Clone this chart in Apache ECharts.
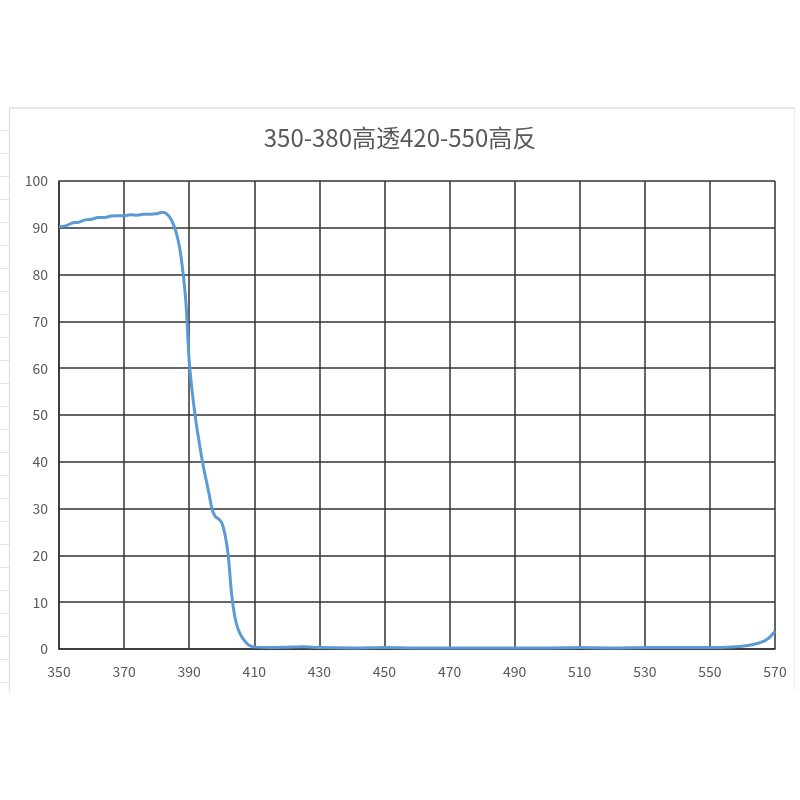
<!DOCTYPE html>
<html>
<head>
<meta charset="utf-8">
<script src="https://cdn.jsdelivr.net/npm/echarts@6/dist/echarts.min.js"></script>
<style>
  html, body { margin: 0; padding: 0; background: #fff; }
  #strip { position: absolute; left: 0; top: 108px; width: 9px; height: 582px;
           background: repeating-linear-gradient(to bottom, transparent 0, transparent 22px, #e3e3e3 22px, #e3e3e3 23px); }
  #frame { position: absolute; left: 9px; top: 107px; width: 784px; height: 582px;
           border-left: 1px solid #d9d9d9; border-top: 2px solid #e6e6e6; border-right: 1px solid #ececec; }
  #main { position: absolute; left: 0; top: 0; width: 800px; height: 800px; }
</style>
</head>
<body>
<div id="strip"></div>
<div id="frame"></div>
<div id="main"></div>
<script>
// 波长 (nm)
const wavelength = [350, 352, 354, 356, 358, 360, 362, 364, 366, 368, 370, 372, 374, 376, 378, 380,
  381, 382, 383, 384, 385, 386, 387, 388, 389, 390, 391, 392, 393, 394, 395, 396, 397, 398, 399,
  400, 401, 402, 403, 404, 405, 406, 407, 408, 409, 410, 415, 420, 425, 430, 440, 450, 460, 470,
  480, 490, 500, 510, 520, 530, 540, 550, 555, 560, 563, 566, 568, 570];
// 透过率 (%)
const transmittance = [90.2, 90.4, 91.0, 91.2, 91.7, 91.8, 92.2, 92.2, 92.5, 92.6, 92.6, 92.8, 92.7, 92.9, 92.9, 93.0,
  93.2, 93.3, 93.0, 92.3, 91.0, 89.0, 86.0, 81.0, 74.0, 61.5, 54.5, 49.0, 44.5, 40.3, 36.8, 33.5, 30.0, 28.3, 27.8,
  27.0, 24.5, 20.0, 12.0, 7.0, 4.3, 2.8, 1.8, 1.0, 0.6, 0.4, 0.3, 0.4, 0.5, 0.3, 0.2, 0.3, 0.2, 0.2,
  0.2, 0.2, 0.2, 0.3, 0.2, 0.3, 0.3, 0.3, 0.4, 0.6, 0.9, 1.5, 2.3, 3.8];

const xTicks = { min: 350, max: 570, step: 20 };
const yTicks = { min: 0, max: 100, step: 10 };

const labelFont = "'Liberation Sans Narrow', 'Noto Sans CJK SC', sans-serif";

const chart = echarts.init(document.getElementById('main'));

const option = {
  animation: false,
  title: {
    text: '350-380高透420-550高反',
    left: 'center',
    top: 121,
    textStyle: {
      fontFamily: 'Noto Sans CJK SC',
      fontSize: 24,
      fontWeight: 'normal',
      color: '#595959'
    }
  },
  grid: {
    left: 59,
    right: 25,
    top: 181,
    bottom: 151,
    containLabel: false
  },
  xAxis: {
    type: 'value',
    min: xTicks.min,
    max: xTicks.max,
    interval: xTicks.step,
    axisLine: { lineStyle: { color: '#333', width: 1.5 } },
    axisTick: { show: false },
    axisLabel: {
      margin: 16,
      fontSize: 14,
      fontFamily: labelFont,
      color: '#595959'
    },
    splitLine: { show: true, lineStyle: { color: '#333', width: 1.5 } }
  },
  yAxis: {
    type: 'value',
    min: yTicks.min,
    max: yTicks.max,
    interval: yTicks.step,
    axisLine: { show: true, lineStyle: { color: '#333', width: 1.5 } },
    axisTick: { show: false },
    axisLabel: {
      margin: 11,
      fontSize: 14,
      fontFamily: labelFont,
      color: '#595959'
    },
    splitLine: { show: true, lineStyle: { color: '#333', width: 1.5 } }
  },
  series: [
    {
      name: '透过率',
      type: 'line',
      data: wavelength.map((w, i) => [w, transmittance[i]]),
      showSymbol: false,
      smooth: 0.3,
      lineStyle: { color: '#5b9bd5', width: 3 },
      itemStyle: { color: '#5b9bd5' },
      z: 5
    }
  ]
};

chart.setOption(option);
</script>
</body>
</html>
